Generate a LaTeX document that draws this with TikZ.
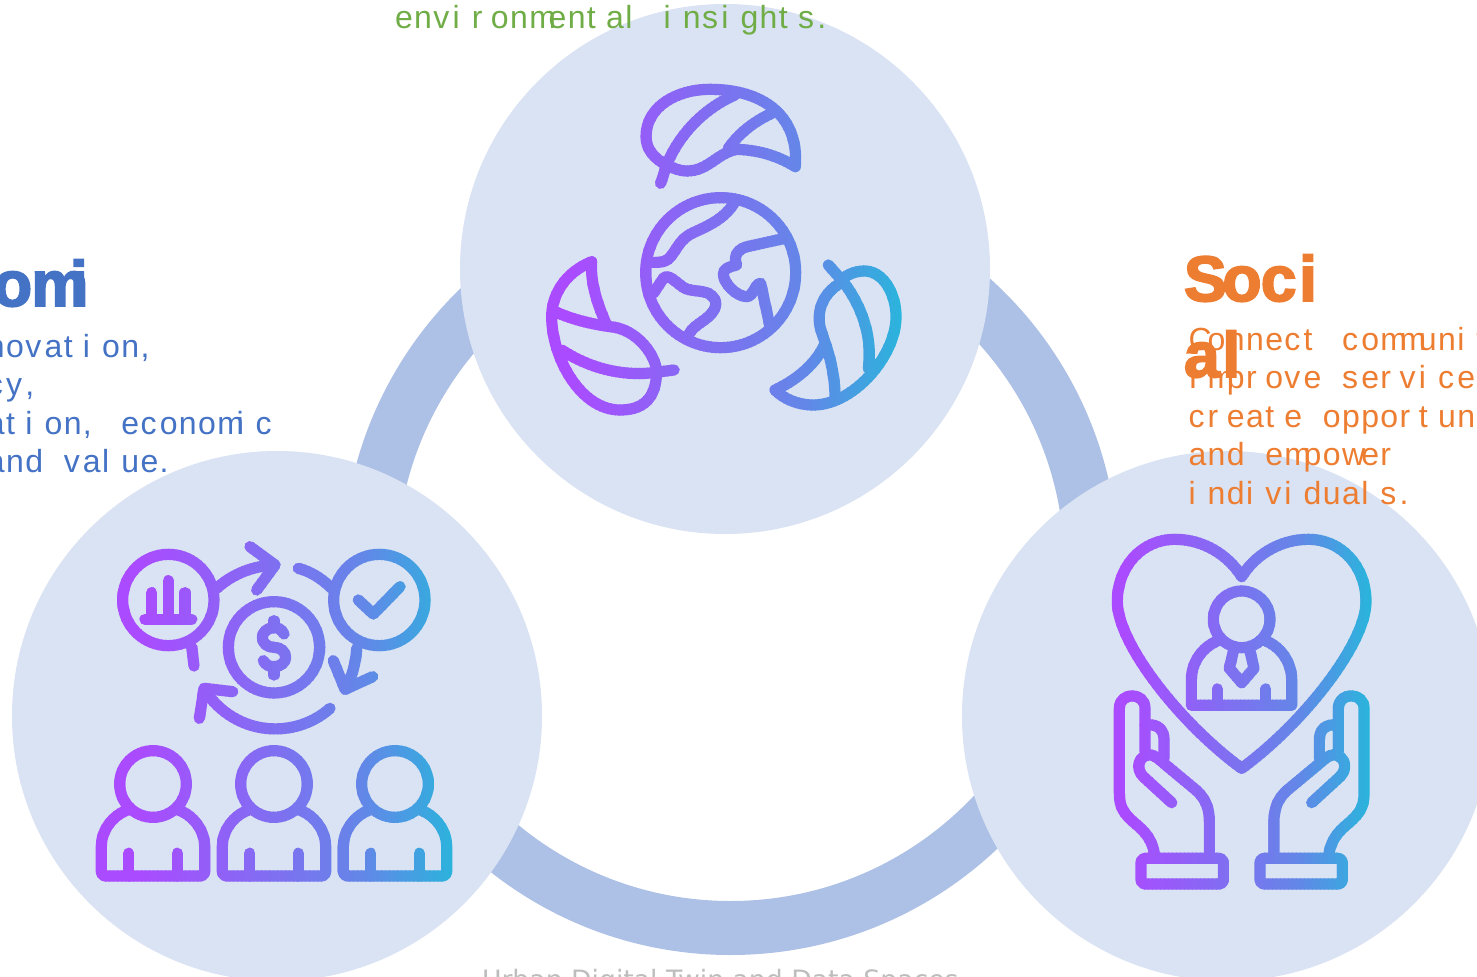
\documentclass[tikz,border=0pt]{standalone}
\usepackage{fontspec}
\setmainfont{Liberation Sans}
\newfontfamily\capfont{DejaVu Sans}
\newfontfamily\headfont[BoldFeatures={FakeBold=3}]{Liberation Sans}
\definecolor{ringc}{HTML}{ADC0E5}
\definecolor{discc}{HTML}{DAE3F3}
\definecolor{txtblue}{HTML}{4472C4}
\definecolor{txtorange}{HTML}{ED7D31}
\definecolor{txtgreen}{HTML}{70AD47}
\definecolor{capgray}{HTML}{BDBDBD}
\definecolor{icpurple}{HTML}{AA4BFF}
\definecolor{icmid}{HTML}{6486E8}
\definecolor{icteal}{HTML}{2AB4DC}
\colorlet{gc}{icpurple}
\newdimen\madv
\def\monoChars#1{\ifx#1\relax\else\hbox to\madv{#1\hss}\expandafter\monoChars\fi}
\newcommand\mbody[1]{\fontsize{24}{28}\selectfont\madv=14.4pt\monoChars#1\relax}
\newcommand\mhead[1]{\headfont\bfseries\fontsize{48}{56}\selectfont\madv=28.8pt\monoChars#1\relax}
\tikzset{
  disc/.style={fill=discc,draw=none},
  ln/.style={draw=gc,line width=8.4pt,line cap=round,line join=round},
  txt/.style={anchor=base west,inner sep=0pt,outer sep=0pt},
  zoomed/.style={x=0.25pt,y=-0.25pt}
}
% strips of one colour each, overlapping a little, give the horizontal gradient
\newcommand\gradicon[5]{% x-left, x-right, gradient start, gradient end, drawing
  \pgfmathtruncatemacro\gsecond{#1+4}%
  \foreach \sx in {#1,\gsecond,...,#2}{%
    \pgfmathsetmacro\pct{max(0,min(100,(\sx+2-(#3))/((#4)-(#3))*100))}%
    \pgfmathsetmacro\pa{min(100,\pct/0.7)}%
    \pgfmathsetmacro\pb{max(0,(\pct-70)/0.3)}%
    \colorlet{gcA}{icmid!\pa!icpurple}%
    \colorlet{gc}{icteal!\pb!gcA}%
    \begin{scope}
      \clip (\sx,0) rectangle (\sx+5,977);
      #5
    \end{scope}
  }%
}
\newcommand\leafdraw{%
  \begin{scope}[shift={(520,70)},zoomed]
    % globe
    \draw[ln] (602,608) circle[radius=225];
    \draw[ln] (645,395) .. controls (615,445) and (570,465) .. (520,488) .. controls (480,505) and (470,540) .. (450,562) .. controls (435,580) and (410,577) .. (385,577);
    \draw[ln] (795,505) -- (690,528) .. controls (650,535) and (640,560) .. (650,585) .. controls (630,590) and (610,595) .. (610,612) .. controls (610,640) and (650,680) .. (680,680) .. controls (700,680) and (705,640) .. (722,640) -- (750,770);
    \draw[ln] (400,670) -- (430,625) .. controls (445,610) and (465,635) .. (490,652) .. controls (510,665) and (540,660) .. (565,670) .. controls (590,685) and (595,705) .. (575,730) .. controls (555,755) and (510,770) .. (505,800);
    % top leaf
    \draw[ln] (422,340) -- (440,285) .. controls (465,220) and (530,125) .. (645,75);
    \draw[ln] (440,285) .. controls (400,265) and (378,235) .. (378,200) .. controls (378,110) and (470,58) .. (570,58) .. controls (720,58) and (838,130) .. (826,290) .. controls (770,255) and (710,240) .. (650,238) .. controls (590,250) and (565,303) .. (500,303) .. controls (480,303) and (460,295) .. (440,285);
    \draw[ln] (755,130) .. controls (690,160) and (650,200) .. (625,235);
    % left leaf
    \draw[ln] (215,575) .. controls (130,610) and (95,680) .. (95,740) .. controls (95,860) and (180,1020) .. (300,1020) .. controls (370,1020) and (410,985) .. (410,900) .. controls (400,840) and (340,775) .. (270,770) .. controls (200,760) and (150,745) .. (105,725);
    \draw[ln] (215,575) .. controls (210,640) and (235,710) .. (260,765);
    \draw[ln] (125,840) .. controls (200,890) and (300,920) .. (400,908) -- (462,900);
    % right leaf
    \draw[ln] (925,585) -- (965,630) .. controls (1015,690) and (1060,790) .. (1045,895);
    \draw[ln] (960,632) .. controls (985,610) and (1010,603) .. (1035,603) .. controls (1095,605) and (1130,680) .. (1128,745) .. controls (1125,860) and (1000,1005) .. (880,1005) .. controls (830,1005) and (790,985) .. (765,960) .. controls (830,930) and (890,880) .. (915,820);
    \draw[ln] (960,640) .. controls (910,670) and (890,720) .. (900,770) .. controls (910,810) and (945,880) .. (945,985);
  \end{scope}}
\newcommand\onebody{%
  \draw[ln] (219,762) circle[radius=100];
  \draw[ln,rounded corners=3pt] (148,838) .. controls (95,855) and (64,905) .. (64,960) -- (64,1038) -- (374,1038) -- (374,960) .. controls (374,905) and (343,855) .. (290,838);
  \draw[ln] (146,1038) -- (146,970);
  \draw[ln] (292,1038) -- (292,970);}
\newcommand\econdraw{%
  \begin{scope}[shift={(80,530)},zoomed]
    \draw[ln] (265,210) circle[radius=137];
    \draw[ln] (195,268) -- (335,268);
    \draw[ln] (215,268) -- (215,188);
    \draw[ln] (265,268) -- (265,152);
    \draw[ln] (315,268) -- (315,188);
    \draw[ln] (410,175) .. controls (460,130) and (520,108) .. (585,105);
    \draw[ln] (510,50) -- (585,105) -- (530,180);
    \draw[ln] (335,350) -- (342,408);
    \draw[ln] (655,115) .. controls (695,125) and (730,150) .. (755,175);
    \draw[ln] (898,210) circle[radius=137];
    \draw[ln] (835,210) -- (880,252) -- (960,170);
    \draw[ln] (830,355) .. controls (828,400) and (815,440) .. (797,478);
    \draw[ln] (760,392) -- (795,478) -- (878,440);
    \draw[ln] (750,535) .. controls (650,625) and (470,625) .. (372,478);
    \draw[ln] (458,485) -- (372,475) -- (358,565);
    \draw[ln] (582,352) circle[radius=137];
    \draw[ln] (612,312) .. controls (605,298) and (595,293) .. (582,293) .. controls (562,293) and (547,307) .. (547,322) .. controls (547,340) and (562,352) .. (582,352) .. controls (602,352) and (617,365) .. (617,382) .. controls (617,397) and (602,410) .. (582,410) .. controls (565,410) and (555,402) .. (550,392);
    \draw[ln] (582,272) -- (582,293);
    \draw[ln] (582,410) -- (582,435);
    \onebody
    \begin{scope}[shift={(363,0)}]\onebody\end{scope}
    \begin{scope}[shift={(726,0)}]\onebody\end{scope}
  \end{scope}}
\newcommand\onehand{%
  \draw[ln] (195,1015) .. controls (190,960) and (165,935) .. (135,910) .. controls (100,880) and (88,860) .. (88,820) -- (88,565) .. controls (88,515) and (165,515) .. (165,565) -- (165,695);
  \draw[ln] (165,615) .. controls (205,610) and (222,630) .. (222,660) -- (222,715);
  \draw[ln] (245,848) -- (160,770) .. controls (135,745) and (145,708) .. (178,704) .. controls (195,705) and (210,720) .. (225,733) -- (320,812) .. controls (350,840) and (358,870) .. (358,905) -- (358,1015);
  \draw[ln,rounded corners=3pt] (153,1015) rectangle (400,1092);}
\newcommand\socialdraw{%
  \begin{scope}[shift={(1090,520)},zoomed]
    \draw[ln] (455,170) .. controls (415,105) and (340,58) .. (255,58) .. controls (155,58) and (82,140) .. (82,245) .. controls (82,370) and (270,610) .. (455,745) .. controls (640,610) and (828,370) .. (828,245) .. controls (828,140) and (755,58) .. (655,58) .. controls (570,58) and (495,105) .. (455,170);
    \draw[ln] (455,298) circle[radius=85];
    \draw[ln] (395,358) .. controls (340,375) and (304,425) .. (304,480) -- (304,556) -- (605,556) -- (605,480) .. controls (605,425) and (570,375) .. (515,358);
    \draw[ln] (382,556) -- (382,507);
    \draw[ln] (527,556) -- (527,507);
    \draw[ln] (432,385) -- (418,445) -- (455,488) -- (492,445) -- (478,385);
    \onehand
    \begin{scope}[shift={(910,0)},xscale=-1]\onehand\end{scope}
  \end{scope}}
\begin{document}
\begin{tikzpicture}[x=0.75pt,y=-0.75pt]
  \useasboundingbox (0,0) rectangle (1477,977);
  \clip (0,0) rectangle (1477,977);
  \fill[white] (0,0) rectangle (1477,977);
  % ring
  \draw[ringc,line width=40.5pt] (730.5,567) circle[radius=361];
  % discs
  \fill[disc] (725,269) circle[radius=265];
  \fill[disc] (277,716) circle[radius=265];
  \fill[disc] (1227,716) circle[radius=265];
  % icons
  \gradicon{535}{912}{570}{902}{\leafdraw}
  \gradicon{85}{465}{140}{455}{\econdraw}
  \gradicon{1100}{1382}{1125}{1370}{\socialdraw}
  % texts
  \node[txt,text=txtgreen] (envLine) at (395,29) {\mbody{environmental~insights.}};
  \node[txt,text=txtblue] (ecoHead) at (-7,306) {\mhead{omi}};
  \node[txt,text=txtblue] (ecoA) at (-13,357) {\mbody{novation,}};
  \node[txt,text=txtblue] (ecoB) at (-13,395.6) {\mbody{cy,}};
  \node[txt,text=txtblue] (ecoC) at (-13,434.2) {\mbody{ation,~economic}};
  \node[txt,text=txtblue] (ecoD) at (-13,472.6) {\mbody{and~value.}};
  \node[txt,text=txtorange] (socA) at (1188.5,350) {\mbody{Connect~communit}};
  \node[txt,text=txtorange] (socB) at (1188.5,388.6) {\mbody{Improve~service}};
  \node[txt,text=txtorange] (socC) at (1188.5,427.2) {\mbody{create~opportun}};
  \node[txt,text=txtorange] (socD) at (1188.5,465.6) {\mbody{and~empower}};
  \node[txt,text=txtorange] (socE) at (1188.5,504.2) {\mbody{individuals.}};
  \node[txt,text=txtorange] (socHeadA) at (1184,301) {\mhead{Soci}};
  \node[txt,text=txtorange] (socHeadB) at (1184,377) {\mhead{al}};
  \node[txt,text=capgray,font=\capfont\fontsize{20}{24}\selectfont] (caption) at (482,989) {Urban Digital Twin and Data Spaces};
\end{tikzpicture}
\end{document}
